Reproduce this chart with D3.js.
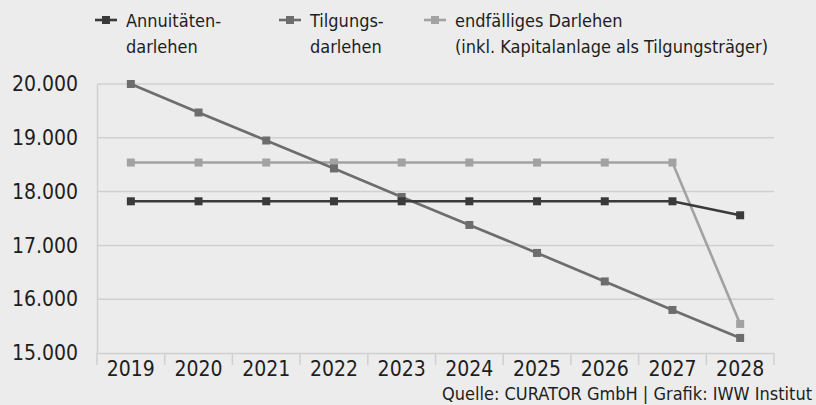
<!DOCTYPE html>
<html><head><meta charset="utf-8">
<script src="https://cdn.jsdelivr.net/npm/d3@7"></script>
<style>
html,body{margin:0;padding:0;background:#ececec;}
svg{display:block;}
text{font-family:"DejaVu Sans Condensed","DejaVu Sans",sans-serif;fill:#1e1e1e;}
</style></head>
<body>
<svg id="chart" width="816" height="405"></svg>
<script>
const years = ["2019","2020","2021","2022","2023","2024","2025","2026","2027","2028"];
const annuitaet = [17820,17820,17820,17820,17820,17820,17820,17820,17820,17560];
const tilgung = [20000,19470,18950,18430,17900,17380,16860,16330,15800,15280];
const endfaellig = [18540,18540,18540,18540,18540,18540,18540,18540,18540,15540];
const yTicks = [15000,16000,17000,18000,19000,20000];
const seriesNames = [["Annuitäten-","darlehen"],["Tilgungs-","darlehen"],["endfälliges Darlehen","(inkl. Kapitalanlage als Tilgungsträger)"]];
const seriesColors = ["#3a3a3a","#6d6d6d","#a2a2a2"];
const sourceText = "Quelle: CURATOR GmbH | Grafik: IWW Institut";

const svg = d3.select("#chart");
svg.append("rect").attr("width",816).attr("height",405).attr("fill","#ececec");

const x = d3.scaleBand().domain(years).range([97,774]);
const y = d3.scaleLinear().domain([15000,20000]).range([353,84]);
const fmt = v => d3.format(",")(v).replace(/,/g,".");

// gridlines
svg.append("g").selectAll("line").data(yTicks.slice(1)).join("line")
  .attr("x1",97).attr("x2",774).attr("y1",d=>y(d)).attr("y2",d=>y(d))
  .attr("stroke","#d0d0d0").attr("stroke-width",1.5);

// y axis
const yAxis = svg.append("g").attr("transform","translate(97,0)")
  .call(d3.axisLeft(y).tickValues(yTicks).tickFormat(fmt).tickSize(0).tickPadding(19));
yAxis.select(".domain").attr("stroke","#d0d0d0").attr("stroke-width",1.5);
yAxis.selectAll("text").style("font-size","21px").attr("fill","#1e1e1e");

// x axis
const xAxis = svg.append("g").attr("transform","translate(0,353)")
  .call(d3.axisBottom(x).tickSize(0).tickPadding(5));
xAxis.select(".domain").attr("stroke","#d0d0d0").attr("stroke-width",1.5);
xAxis.selectAll("text").style("font-size","21px").attr("fill","#1e1e1e").attr("dy","0.85em");
const bounds = years.map(d=>x(d)).concat([x(years[years.length-1])+x.bandwidth()]);
xAxis.append("g").selectAll("line").data(bounds).join("line")
  .attr("x1",d=>d).attr("x2",d=>d).attr("y1",0).attr("y2",12)
  .attr("stroke","#d0d0d0").attr("stroke-width",1.5);

const cx = d => x(d) + x.bandwidth()/2;
const allSeries = [annuitaet, tilgung, endfaellig];
const line = d3.line().x((d,i)=>cx(years[i])).y(d=>y(d));
[2,1,0].forEach(si=>{
  const data = allSeries[si];
  svg.append("path").datum(data).attr("d",line).attr("fill","none")
    .attr("stroke",seriesColors[si]).attr("stroke-width",2.6);
  svg.append("g").selectAll("rect").data(data).join("rect")
    .attr("x",(d,i)=>cx(years[i])-4).attr("y",d=>y(d)-4)
    .attr("width",8).attr("height",8).attr("fill",seriesColors[si]);
});

// legend
const legendX = [95,279,424];
seriesNames.forEach((lines,i)=>{
  const g = svg.append("g").attr("transform",`translate(${legendX[i]},0)`);
  g.append("line").attr("x1",0).attr("x2",22).attr("y1",20).attr("y2",20)
    .attr("stroke",seriesColors[i]).attr("stroke-width",2.6);
  g.append("rect").attr("x",7).attr("y",16).attr("width",8).attr("height",8).attr("fill",seriesColors[i]);
  lines.forEach((t,j)=>{
    g.append("text").attr("x",31).attr("y",27+j*26).style("font-size","18px").text(t);
  });
});

svg.append("text").attr("x",812).attr("y",400).attr("text-anchor","end")
  .style("font-size","18px").text(sourceText);
</script>
</body></html>
